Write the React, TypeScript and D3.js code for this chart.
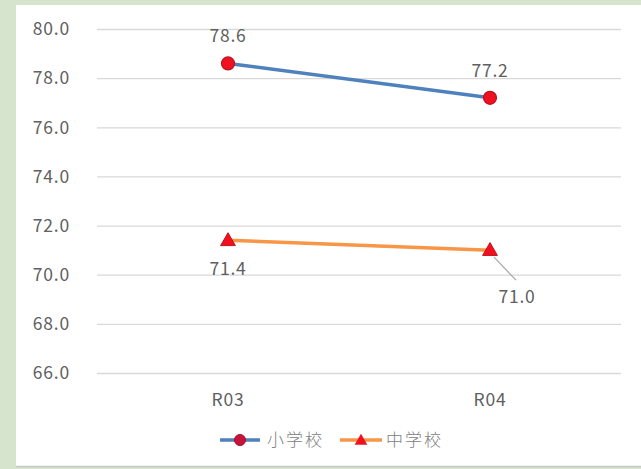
import React, { useEffect, useRef } from 'react';
import * as d3 from 'd3';

const categories = ['R03', 'R04'];
const elementary = [78.6, 77.2]; // 小学校
const juniorHigh = [71.4, 71.0]; // 中学校
const yTicks = [66, 68, 70, 72, 74, 76, 78, 80];
const seriesNames = ['小学校', '中学校'];

const W = 641;
const H = 469;
const FONT = '"Noto Sans CJK JP", "Noto Sans", sans-serif';
const TEXT = '#606060';

const App: React.FC = () => {
  const svgRef = useRef<SVGSVGElement>(null);

  useEffect(() => {
    document.body.style.margin = '0';
    const svg = d3.select(svgRef.current);
    svg.selectAll('*').remove();

    // frame
    svg.append('rect').attr('width', W).attr('height', H).attr('fill', '#d7e4cd');
    svg.append('rect').attr('x', 16).attr('y', 5).attr('width', W - 16).attr('height', 461).attr('fill', '#ffffff');
    svg.append('line').attr('x1', 16).attr('x2', W).attr('y1', 466.5).attr('y2', 466.5)
      .attr('stroke', '#c8c8c8').attr('stroke-width', 1.5);

    const x = d3.scalePoint<string>().domain(categories).range([97, 621]).padding(0.5);
    const y = d3.scaleLinear().domain([66, 80]).range([373, 29]);

    // grid
    svg.append('g').selectAll('line').data(yTicks).enter().append('line')
      .attr('x1', 97).attr('x2', 621)
      .attr('y1', d => y(d) + 0.5).attr('y2', d => y(d) + 0.5)
      .attr('stroke', '#d9d9d9').attr('stroke-width', 1.3);

    const txt = (sel: any) => sel.attr('fill', TEXT)
      .style('font-family', FONT).style('font-size', '17.5px').style('letter-spacing', '0.8px');

    // y labels
    svg.append('g').selectAll('text').data(yTicks).enter().append('text')
      .attr('x', 70).attr('y', d => y(d)).attr('dy', '0.36em')
      .attr('text-anchor', 'end').call(txt)
      .text(d => d.toFixed(1));

    // x labels
    svg.append('g').selectAll('text').data(categories).enter().append('text')
      .attr('x', d => x(d)!).attr('y', 400).attr('dy', '0.36em')
      .attr('text-anchor', 'middle').call(txt)
      .text(d => d);

    const line = d3.line<number>().x((_, i) => x(categories[i])!).y(d => y(d));

    svg.append('path').datum(elementary).attr('d', line).attr('fill', 'none')
      .attr('stroke', '#4f81bd').attr('stroke-width', 3.5);
    svg.append('path').datum(juniorHigh).attr('d', line).attr('fill', 'none')
      .attr('stroke', '#f79646').attr('stroke-width', 3.5);

    const tri = d3.symbol().type(d3.symbolTriangle).size(95);

    svg.append('g').selectAll('circle').data(elementary).enter().append('circle')
      .attr('cx', (_, i) => x(categories[i])!).attr('cy', d => y(d)).attr('r', 6.5)
      .attr('fill', '#f01020').attr('stroke', '#b8141c').attr('stroke-width', 1.2);

    svg.append('g').selectAll('path').data(juniorHigh).enter().append('path')
      .attr('d', tri)
      .attr('transform', (d, i) => `translate(${x(categories[i])},${y(d) + 1})`)
      .attr('fill', '#f01020').attr('stroke', '#c0141c').attr('stroke-width', 1);

    // data labels
    const label = (tx: number, ty: number, s: string) =>
      svg.append('text').attr('x', tx).attr('y', ty).attr('text-anchor', 'middle')
        .call(txt).text(s);

    elementary.forEach((v, i) => label(x(categories[i])!, y(v) - 21, v.toFixed(1)));
    label(x(categories[0])!, y(juniorHigh[0]) + 35, juniorHigh[0].toFixed(1));

    // leader line for 71.0
    const px = x(categories[1])!;
    const py = y(juniorHigh[1]);
    svg.append('line').attr('x1', px + 4).attr('y1', py + 7).attr('x2', px + 26).attr('y2', py + 30)
      .attr('stroke', '#a6a6a6').attr('stroke-width', 1.2);
    label(px + 27, py + 53, juniorHigh[1].toFixed(1));

    // legend
    const lg = svg.append('g').attr('transform', 'translate(0,440)');
    lg.append('line').attr('x1', 220).attr('x2', 260).attr('stroke', '#4f81bd').attr('stroke-width', 3.5);
    lg.append('circle').attr('cx', 240).attr('r', 5.5).attr('fill', '#c8143c').attr('stroke', '#a01030');
    lg.append('text').attr('x', 267).attr('dy', '0.36em').attr('fill', '#808080')
      .style('font-family', FONT).style('font-size', '17px').style('font-weight', '300')
      .style('letter-spacing', '2px').text(seriesNames[0]);
    lg.append('line').attr('x1', 340).attr('x2', 382).attr('stroke', '#f79646').attr('stroke-width', 3.5);
    lg.append('path').attr('d', d3.symbol().type(d3.symbolTriangle).size(70)).attr('transform', 'translate(361,1)')
      .attr('fill', '#f01020');
    lg.append('text').attr('x', 386).attr('dy', '0.36em').attr('fill', '#808080')
      .style('font-family', FONT).style('font-size', '17px').style('font-weight', '300')
      .style('letter-spacing', '2px').text(seriesNames[1]);
  }, []);

  return (
    <div style={{ position: 'absolute', left: 0, top: 0 }}>
      <svg ref={svgRef} width={W} height={H} style={{ display: 'block' }} />
    </div>
  );
};

export default App;
